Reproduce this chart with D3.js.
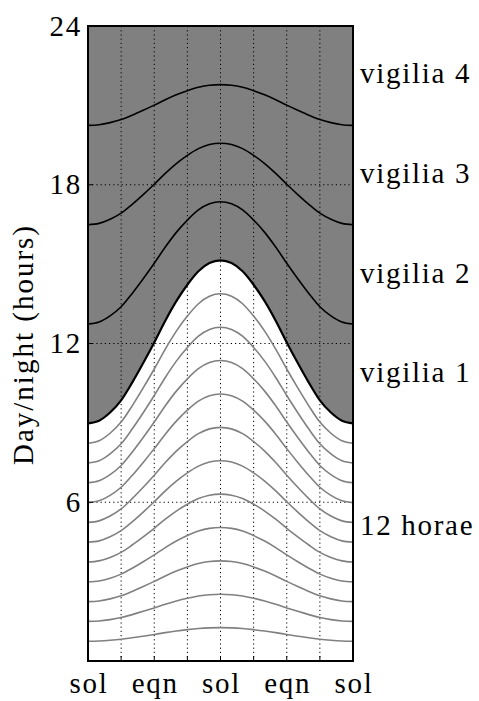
<!DOCTYPE html>
<html>
<head>
<meta charset="utf-8">
<script src="https://cdn.jsdelivr.net/npm/d3@7"></script>
<style>
  body { margin: 0; background: #fff; }
</style>
</head>
<body>
<svg width="479" height="701"></svg>
<script>
// months from winter solstice, every half month
var months = [0, 0.5, 1, 1.5, 2, 2.5, 3, 3.5, 4, 4.5, 5, 5.5, 6,
              6.5, 7, 7.5, 8, 8.5, 9, 9.5, 10, 10.5, 11, 11.5, 12];
// length of daylight (hours)
var dayLength = [8.98, 9.08, 9.39, 9.85, 10.52, 11.26, 12.04, 12.86, 13.60, 14.22, 14.73, 15.04, 15.14,
                 15.04, 14.73, 14.22, 13.60, 12.86, 12.04, 11.26, 10.52, 9.85, 9.39, 9.08, 8.98];

var yTicks = [6, 12, 18, 24];
var xGrid = [0, 1.5, 3, 4.5, 6, 7.5, 9, 10.5, 12];
var xLabels = [{m: 0, t: 'sol'}, {m: 3, t: 'eqn'}, {m: 6, t: 'sol'}, {m: 9, t: 'eqn'}, {m: 12, t: 'sol'}];
var bandLabels = [{h: 21.85, t: 'vigilia 4'}, {h: 18.07, t: 'vigilia 3'}, {h: 14.3, t: 'vigilia 2'},
                  {h: 10.55, t: 'vigilia 1'}, {h: 4.76, t: '12 horae'}];

var FONT = "'Liberation Serif', 'Times New Roman', serif";
var FSIZE = '29px', SPACING = '1.7px';

var margin = {top: 26, right: 126, bottom: 40, left: 88},
    width = 479 - margin.left - margin.right,
    height = 701 - margin.top - margin.bottom;

var x = d3.scaleLinear().domain([0, 12]).range([0, width]);
var y = d3.scaleLinear().domain([0, 24]).range([height, 0]);

var svg = d3.select('svg');
var g = svg.append('g')
    .attr('transform', 'translate(' + margin.left + ',' + margin.top + ')');

var data = months.map(function(m, i) { return {m: m, d: dayLength[i]}; });

// night shading
var area = d3.area()
    .x(function(d) { return x(d.m); })
    .y0(function(d) { return y(d.d); })
    .y1(y(24))
    .curve(d3.curveMonotoneX);

g.append('path')
    .datum(data)
    .attr('d', area)
    .attr('fill', '#808080');

// grid
g.selectAll('.vgrid')
  .data(xGrid.slice(1, -1))
  .enter()
  .append('line')
    .attr('x1', d => x(d)).attr('x2', d => x(d))
    .attr('y1', 0).attr('y2', height)
    .attr('stroke', '#000')
    .attr('stroke-width', 1)
    .attr('stroke-dasharray', '1.2,3');

g.selectAll('.hgrid')
  .data(yTicks.slice(0, -1))
  .enter()
  .append('line')
    .attr('x1', 0).attr('x2', width)
    .attr('y1', d => y(d)).attr('y2', d => y(d))
    .attr('stroke', '#000')
    .attr('stroke-width', 1)
    .attr('stroke-dasharray', '1.2,3');

// hour lines: 12 horae in the day, 4 vigiliae in the night
var lineFor = function(f) {
  return d3.line()
    .x(function(d) { return x(d.m); })
    .y(function(d) { return y(f(d.d)); })
    .curve(d3.curveMonotoneX);
};

d3.range(1, 12).forEach(function(k) {
  g.append('path')
    .datum(data)
    .attr('d', lineFor(function(d) { return d * k / 12; }))
    .attr('fill', 'none')
    .attr('stroke', '#808080')
    .attr('stroke-width', 1.6);
});

d3.range(1, 4).forEach(function(k) {
  g.append('path')
    .datum(data)
    .attr('d', lineFor(function(d) { return d + (24 - d) * k / 4; }))
    .attr('fill', 'none')
    .attr('stroke', '#000')
    .attr('stroke-width', 1.6);
});

g.append('path')
  .datum(data)
  .attr('d', lineFor(function(d) { return d; }))
  .attr('fill', 'none')
  .attr('stroke', '#000')
  .attr('stroke-width', 2.2);

// ticks inward
g.selectAll('.ytick')
  .data(yTicks.slice(0, -1))
  .enter()
  .append('line')
    .attr('x1', 0).attr('x2', 5)
    .attr('y1', d => y(d)).attr('y2', d => y(d))
    .attr('stroke', '#000');

g.selectAll('.xtick')
  .data(xGrid.slice(1, -1))
  .enter()
  .append('line')
    .attr('x1', d => x(d)).attr('x2', d => x(d))
    .attr('y1', height).attr('y2', height - 5)
    .attr('stroke', '#000');

// frame
g.append('rect')
  .attr('width', width)
  .attr('height', height)
  .attr('fill', 'none')
  .attr('stroke', '#000')
  .attr('stroke-width', 2);

// tick labels
g.selectAll('.ylab')
  .data(yTicks)
  .enter()
  .append('text')
    .attr('x', -6)
    .attr('y', d => y(d))
    .attr('dy', '0.33em')
    .style('font-family', FONT)
    .style('letter-spacing', SPACING)
    .style('text-anchor', 'end')
    .style('font-size', FSIZE)
    .text(d => d);

g.selectAll('.xlab')
  .data(xLabels)
  .enter()
  .append('text')
    .attr('x', d => x(d.m) + 1)
    .attr('y', height + 32)
    .style('font-family', FONT)
    .style('letter-spacing', SPACING)
    .style('text-anchor', 'middle')
    .style('font-size', FSIZE)
    .text(d => d.t);

g.selectAll('.band')
  .data(bandLabels)
  .enter()
  .append('text')
    .attr('x', width + 7)
    .attr('y', d => y(d.h))
    .style('font-family', FONT)
    .style('letter-spacing', SPACING)
    .style('font-size', FSIZE)
    .text(d => d.t);

svg.append('text')
  .attr('transform', 'translate(33,' + (margin.top + height / 2 + 1) + ') rotate(-90)')
  .style('font-family', FONT)
  .style('letter-spacing', '2px')
  .style('text-anchor', 'middle')
  .style('font-size', FSIZE)
  .text('Day/night (hours)');
</script>
</body>
</html>
